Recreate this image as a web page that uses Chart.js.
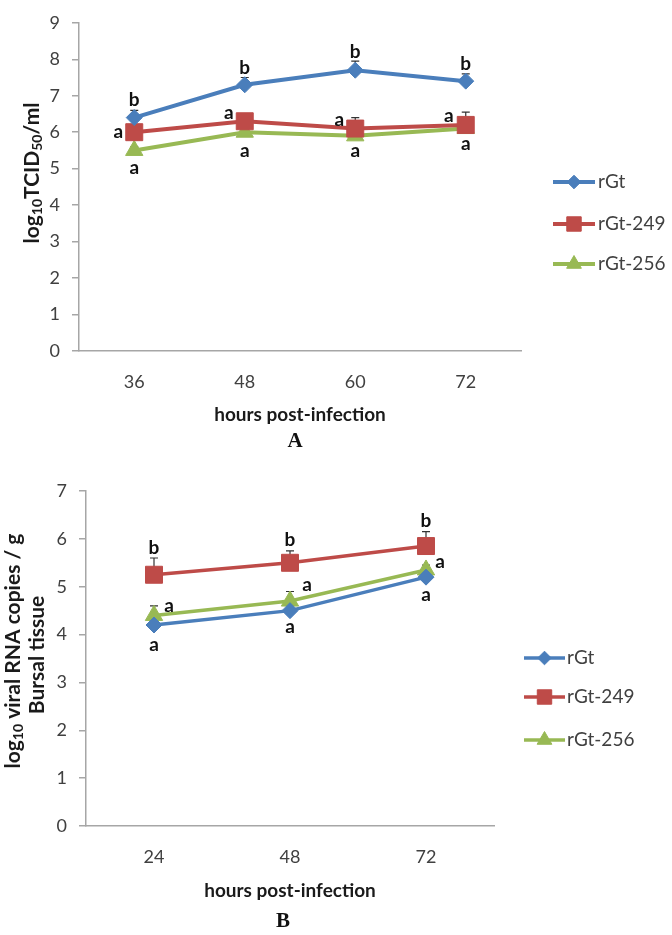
<!DOCTYPE html>
<html>
<head>
<meta charset="utf-8">
<script src="https://cdn.jsdelivr.net/npm/chart.js@4.4.1/dist/chart.umd.min.js"></script>
<style>
  body { margin: 0; background: #fff; width: 672px; height: 935px; position: relative; overflow: hidden; }
  canvas { position: absolute; left: 0; }
  #chartA { top: 0; }
  #chartB { top: 455px; }
</style>
</head>
<body>
<canvas id="chartA" width="672" height="455"></canvas>
<canvas id="chartB" width="672" height="480"></canvas>
<script>
// ---- panel A : log10 TCID50/ml ----
const hoursA = ['36', '48', '60', '72'];
const rGtA = [6.4, 7.3, 7.7, 7.4];
const rGt249A = [6.0, 6.3, 6.1, 6.2];
const rGt256A = [5.5, 6.0, 5.9, 6.1];
const errRGtA = [0.2, 0.2, 0.25, 0.2];
const err249A = [0.1, 0.15, 0.3, 0.35];
const err256A = [0.1, 0.1, 0.1, 0.1];
const sigRGtA = ['b', 'b', 'b', 'b'];
const sig249A = ['a', 'a', 'a', 'a'];
const sig256A = ['a', 'a', 'a', 'a'];
const yMaxA = 9;

// ---- panel B : viral RNA copies in bursa ----
const hoursB = ['24', '48', '72'];
const rGtB = [4.2, 4.5, 5.2];
const rGt249B = [5.25, 5.5, 5.85];
const rGt256B = [4.4, 4.7, 5.35];
const errRGtB = [0.1, 0.1, 0.1];
const err249B = [0.35, 0.25, 0.3];
const err256B = [0.2, 0.2, 0.1];
const sigRGtB = ['a', 'a', 'a'];
const sig249B = ['b', 'b', 'b'];
const sig256B = ['a', 'a', 'a'];
const yMaxB = 7;

const seriesNames = ['rGt', 'rGt-249', 'rGt-256'];
const colors = ['#4A7EBB', '#BE4B48', '#98B954'];
const markers = ['rectRot', 'rect', 'triangle'];
const markerSize = [8, 12, 10];
const axisGrey = '#A6A6A6';
const txt = '#404040';

// where the letters sit relative to each point, and other extras per panel
const extraCfg = {
  chartA: {
    errors: [errRGtA, err249A, err256A],
    sig: [sigRGtA, sig249A, sig256A],
    sigOffset: [
      [[0, -18], [0, -17], [0, -18], [0, -17]],
      [[-16, 0], [-16, -8], [-16, -9], [-17, -9]],
      [[0, 17], [0, 19], [0, 15], [0, 15]]
    ],
    legend: { x0: 553, x1: 595, tx: 598, ys: [182, 224, 264] },
    xTitle: { x: 300, y: 415 },
    panel: { text: 'A', x: 295, y: 442 },
    yTitle: [{ parts: [['log', 0], ['10', 1], ['TCID', 0], ['50', 1], ['/ml', 0]], x: 32, y: 173 }],
    lineW: 4
  },
  chartB: {
    errors: [errRGtB, err249B, err256B],
    sig: [sigRGtB, sig249B, sig256B],
    sigOffset: [
      [[0, 20], [0, 16], [0, 18]],
      [[0, -27], [0, -23], [0, -25]],
      [[15, -10], [17, -16], [14, -8]]
    ],
    legend: { x0: 524, x1: 565, tx: 567, ys: [203, 242, 285] },
    xTitle: { x: 290, y: 436 },
    panel: { text: 'B', x: 283, y: 467 },
    yTitle: [
      { parts: [['log', 0], ['10', 1], [' viral RNA copies / g', 0]], x: 13, y: 196 },
      { parts: [['Bursal tissue', 0]], x: 37, y: 200 }
    ],
    lineW: 3.5
  }
};

function drawRich(ctx, parts, cx, cy) {
  const big = 'bold 21px Lato', small = 'bold 14px Lato';
  let w = 0;
  parts.forEach(p => { ctx.font = p[1] ? small : big; w += ctx.measureText(p[0]).width; });
  ctx.save();
  ctx.translate(cx, cy);
  ctx.rotate(-Math.PI / 2);
  ctx.textAlign = 'left';
  ctx.textBaseline = 'middle';
  ctx.fillStyle = '#1a1a1a';
  let x = -w / 2;
  parts.forEach(p => {
    ctx.font = p[1] ? small : big;
    ctx.fillText(p[0], x, p[1] ? 5 : 0);
    x += ctx.measureText(p[0]).width;
  });
  ctx.restore();
}

const extras = {
  id: 'extras',
  beforeDatasetsDraw(chart) {
    const cfg = extraCfg[chart.canvas.id];
    const ctx = chart.ctx, ys = chart.scales.y;
    ctx.save();
    ctx.strokeStyle = '#333';
    ctx.lineWidth = 1.2;
    chart.data.datasets.forEach((ds, i) => {
      chart.getDatasetMeta(i).data.forEach((pt, j) => {
        const top = ys.getPixelForValue(ds.data[j] + cfg.errors[i][j]);
        ctx.beginPath();
        ctx.moveTo(pt.x, pt.y);
        ctx.lineTo(pt.x, top);
        ctx.moveTo(pt.x - 4, top);
        ctx.lineTo(pt.x + 4, top);
        ctx.stroke();
      });
    });
    ctx.restore();
  },
  afterDraw(chart) {
    const cfg = extraCfg[chart.canvas.id];
    const ctx = chart.ctx;
    ctx.save();
    // significance letters
    ctx.font = 'bold 19px Lato';
    ctx.fillStyle = '#111';
    ctx.textAlign = 'center';
    ctx.textBaseline = 'middle';
    chart.data.datasets.forEach((ds, i) => {
      chart.getDatasetMeta(i).data.forEach((pt, j) => {
        const o = cfg.sigOffset[i][j];
        ctx.fillText(cfg.sig[i][j], pt.x + o[0], pt.y + o[1]);
      });
    });
    // legend
    const lg = cfg.legend;
    chart.data.datasets.forEach((ds, i) => {
      const y = lg.ys[i];
      ctx.strokeStyle = ds.borderColor;
      ctx.fillStyle = ds.borderColor;
      ctx.lineWidth = cfg.lineW;
      ctx.beginPath();
      ctx.moveTo(lg.x0, y);
      ctx.lineTo(lg.x1, y);
      ctx.stroke();
      ctx.lineWidth = 1;
      Chart.helpers.drawPoint(ctx, { pointStyle: ds.pointStyle, radius: ds.pointRadius * 0.85, rotation: 0, borderWidth: 1 }, (lg.x0 + lg.x1) / 2, y);
      ctx.fillStyle = txt;
      ctx.font = '19px Lato';
      ctx.textAlign = 'left';
      ctx.fillText(ds.label, lg.tx, y);
    });
    // axis titles
    ctx.fillStyle = '#1a1a1a';
    ctx.textAlign = 'center';
    ctx.font = 'bold 19px Lato';
    ctx.fillText('hours post-infection', cfg.xTitle.x, cfg.xTitle.y);
    ctx.font = 'bold 21px "Liberation Serif"';
    ctx.fillStyle = '#111';
    ctx.fillText(cfg.panel.text, cfg.panel.x, cfg.panel.y);
    cfg.yTitle.forEach(t => drawRich(ctx, t.parts, t.x, t.y));
    ctx.restore();
  }
};

function makeChart(id, labels, values, yMax, yWidth, xHeight, pad) {
  new Chart(document.getElementById(id), {
    type: 'line',
    data: {
      labels: labels,
      datasets: values.map((v, i) => ({
        label: seriesNames[i],
        data: v,
        borderColor: colors[i],
        backgroundColor: colors[i],
        borderWidth: extraCfg[id].lineW,
        pointStyle: markers[i],
        pointRadius: markerSize[i],
        pointBorderWidth: 1,
        tension: 0
      }))
    },
    options: {
      responsive: false,
      animation: false,
      devicePixelRatio: 1,
      layout: { padding: pad },
      plugins: { legend: { display: false }, tooltip: { enabled: false } },
      scales: {
        x: {
          offset: true,
          grid: { display: false, drawTicks: false },
          border: { color: axisGrey, width: 1.5 },
          ticks: { color: txt, font: { family: 'Lato', size: 18 }, padding: 20 },
          afterFit(s) { s.height = xHeight; }
        },
        y: {
          min: 0,
          max: yMax,
          ticks: { stepSize: 1, color: txt, font: { family: 'Lato', size: 18 }, padding: 12 },
          grid: { drawOnChartArea: false, tickLength: 7, color: axisGrey, lineWidth: 1.5 },
          border: { color: axisGrey, width: 1.5 },
          afterFit(s) { s.width = yWidth; }
        }
      }
    },
    plugins: [extras]
  });
}

makeChart('chartA', hoursA, [rGtA, rGt249A, rGt256A], yMaxA, 79, 104, { left: 0, top: 14, right: 151, bottom: 0 });
makeChart('chartB', hoursB, [rGtB, rGt249B, rGt256B], yMaxB, 86, 109, { left: 0, top: 36, right: 178, bottom: 0 });
</script>
</body>
</html>
